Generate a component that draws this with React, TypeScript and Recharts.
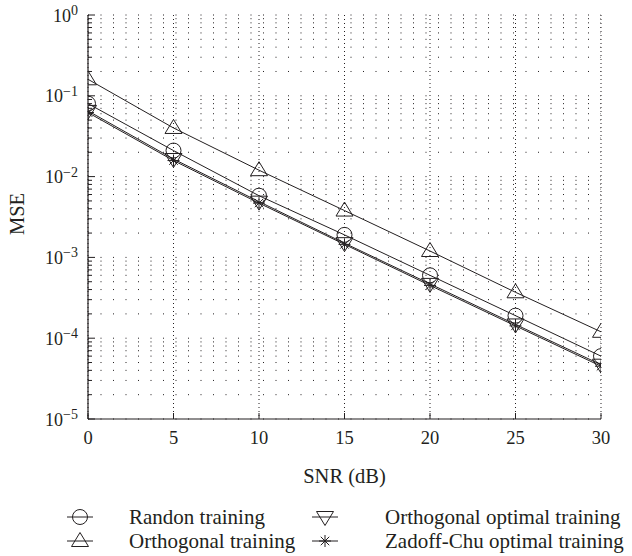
import React from 'react';
import { LineChart, Line, XAxis, YAxis, CartesianGrid, Label } from 'recharts';

const snrDb = [0, 5, 10, 15, 20, 25, 30];
const randonTraining = [0.08, 0.021, 0.0058, 0.0019, 0.0006, 0.00019, 0.00006];
const orthogonalTraining = [0.16, 0.04, 0.012, 0.0038, 0.0012, 0.00037, 0.00012];
const orthogonalOptimalTraining = [0.065, 0.0165, 0.0049, 0.0015, 0.00047, 0.000148, 0.000047];
const zadoffChuOptimalTraining = [0.062, 0.0158, 0.0047, 0.00145, 0.00045, 0.000142, 0.000045];

const xTicks = [0, 5, 10, 15, 20, 25, 30];
const decadeExponents = [-5, -4, -3, -2, -1];
const mantissas = [1, 2, 3, 4, 5, 6, 7, 8, 9];

const yTicks: number[] = [];
for (const e of decadeExponents) for (const m of mantissas) yTicks.push(m * Math.pow(10, e));
yTicks.push(1);

const data = snrDb.map((s, i) => ({
  snr: s,
  randon: randonTraining[i],
  ortho: orthogonalTraining[i],
  orthoOpt: orthogonalOptimalTraining[i],
  zc: zadoffChuOptimalTraining[i],
}));

const FONT = '"Liberation Serif", "Times New Roman", serif';
const INK = '#231f20';

function isMajor(v: number) {
  const e = Math.floor(Math.log10(v) + 1e-9);
  const m = v / Math.pow(10, e);
  return Math.abs(m - 1) < 1e-6;
}

const CircleMark = ({ cx, cy }: any) => (
  <circle cx={cx} cy={cy} r={7.5} fill="none" stroke={INK} strokeWidth={1} />
);
const TriUpMark = ({ cx, cy }: any) => (
  <polygon
    points={`${cx},${cy - 8.5} ${cx - 8.5},${cy + 5.5} ${cx + 8.5},${cy + 5.5}`}
    fill="none"
    stroke={INK}
    strokeWidth={1}
  />
);
const TriDownMark = ({ cx, cy }: any) => (
  <polygon
    points={`${cx},${cy + 8.5} ${cx - 8.5},${cy - 5.5} ${cx + 8.5},${cy - 5.5}`}
    fill="none"
    stroke={INK}
    strokeWidth={1}
  />
);
const StarMark = ({ cx, cy }: any) => {
  const r = 6;
  const d = r * 0.7071;
  return (
    <g stroke={INK} strokeWidth={1}>
      <line x1={cx - r} y1={cy} x2={cx + r} y2={cy} />
      <line x1={cx} y1={cy - r} x2={cx} y2={cy + r} />
      <line x1={cx - d} y1={cy - d} x2={cx + d} y2={cy + d} />
      <line x1={cx - d} y1={cy + d} x2={cx + d} y2={cy - d} />
    </g>
  );
};

function LeftTick(props: any) {
  const { x, y, payload } = props;
  const v = payload.value;
  const major = isMajor(v);
  const e = Math.round(Math.log10(v));
  return (
    <g>
      <line x1={x} x2={x + (major ? 7 : 4)} y1={y} y2={y} stroke={INK} strokeWidth={1} />
      {major && (
        <text x={x - 10} y={y + 6.5} textAnchor="end" fontFamily={FONT} fontSize={18} fill={INK}>
          <tspan>10</tspan>
          <tspan dy={-6.5} fontSize={14}>{e === 0 ? '0' : '\u2212' + Math.abs(e)}</tspan>
        </text>
      )}
    </g>
  );
}

function RightTick(props: any) {
  const { x, y, payload } = props;
  const major = isMajor(payload.value);
  return <line x1={x} x2={x - (major ? 7 : 4)} y1={y} y2={y} stroke={INK} strokeWidth={1} />;
}

function BottomTick(props: any) {
  const { x, y, payload } = props;
  return (
    <g>
      <line x1={x} x2={x} y1={y} y2={y - 6} stroke={INK} strokeWidth={1} />
      <text x={x} y={y + 25} textAnchor="middle" fontFamily={FONT} fontSize={18.5} fill={INK}>
        {payload.value}
      </text>
    </g>
  );
}

function TopTick(props: any) {
  const { x, y } = props;
  return <line x1={x} x2={x} y1={y} y2={y + 6} stroke={INK} strokeWidth={1} />;
}

const MseLabel = (props: any) => {
  const vb = props.viewBox || {};
  const cx = vb.x + 17;
  const cy = vb.y + vb.height / 2 - 3;
  return (
    <text
      x={cx}
      y={cy}
      transform={`rotate(-90 ${cx} ${cy})`}
      textAnchor="middle"
      dominantBaseline="central"
      fontFamily={FONT}
      fontSize={20.5}
      fill={INK}
    >
      MSE
    </text>
  );
};

const SnrLabel = (props: any) => {
  const vb = props.viewBox || {};
  const cx = vb.x + vb.width / 2;
  return (
    <text x={cx} y={vb.y + 64} textAnchor="middle" fontFamily={FONT} fontSize={20.5} fill={INK}>
      SNR (dB)
    </text>
  );
};

const legendItems = [
  { name: 'Randon training', Mark: CircleMark, left: 67, text: 129, row: 0 },
  { name: 'Orthogonal training', Mark: TriUpMark, left: 67, text: 129, row: 1 },
  { name: 'Orthogonal optimal training', Mark: TriDownMark, left: 312, text: 385, row: 0 },
  { name: 'Zadoff-Chu optimal training', Mark: StarMark, left: 312, text: 385, row: 1 },
];

export default function App() {
  return (
    <div style={{ position: 'absolute', left: 0, top: 0, width: 632, height: 556, overflow: 'hidden' }}>
      <LineChart
        width={632}
        height={556}
        data={data}
        margin={{ top: 15, right: 31, left: 0, bottom: 67 }}
        style={{ display: 'block' }}
      >
        <CartesianGrid horizontal={true} vertical={false} stroke={INK} strokeWidth={1} strokeDasharray="1 11.5" />
        <CartesianGrid horizontal={false} vertical={true} stroke={INK} strokeWidth={1} strokeDasharray="1 3" />
        <XAxis
          dataKey="snr"
          type="number"
          domain={[0, 30]}
          ticks={xTicks}
          allowDataOverflow
          height={70}
          tickSize={0}
          tickMargin={0}
          tickLine={false}
          axisLine={{ stroke: INK, strokeWidth: 1.2 }}
          tick={(p: any) => <BottomTick {...p} />}
          interval={0}
        >
          <Label content={SnrLabel} />
        </XAxis>
        <XAxis
          xAxisId="top"
          orientation="top"
          dataKey="snr"
          type="number"
          domain={[0, 30]}
          ticks={xTicks}
          allowDataOverflow
          height={0}
          tickSize={0}
          tickMargin={0}
          tickLine={false}
          axisLine={{ stroke: INK, strokeWidth: 1.2 }}
          tick={(p: any) => <TopTick {...p} />}
          interval={0}
        />
        <YAxis
          type="number"
          scale="log"
          domain={[1e-5, 1]}
          ticks={yTicks}
          allowDataOverflow
          width={88}
          tickSize={0}
          tickMargin={0}
          tickLine={false}
          axisLine={{ stroke: INK, strokeWidth: 1.2 }}
          tick={(p: any) => <LeftTick {...p} />}
          interval={0}
        >
          <Label content={MseLabel} />
        </YAxis>
        <YAxis
          yAxisId="right"
          orientation="right"
          type="number"
          scale="log"
          domain={[1e-5, 1]}
          ticks={yTicks}
          allowDataOverflow
          width={0}
          tickSize={0}
          tickMargin={0}
          tickLine={false}
          axisLine={{ stroke: INK, strokeWidth: 1.2 }}
          tick={(p: any) => <RightTick {...p} />}
          interval={0}
        />
        <Line
          xAxisId="top"
          yAxisId="right"
          dataKey="ortho"
          stroke="none"
          dot={false}
          activeDot={false}
          legendType="none"
          isAnimationActive={false}
        />
        <Line
          dataKey="ortho"
          stroke={INK}
          strokeWidth={1}
          isAnimationActive={false}
          dot={(p: any) => <TriUpMark key={'o' + p.index} cx={p.cx} cy={p.cy} />}
          activeDot={false}
        />
        <Line
          dataKey="randon"
          stroke={INK}
          strokeWidth={1}
          isAnimationActive={false}
          dot={(p: any) => <CircleMark key={'r' + p.index} cx={p.cx} cy={p.cy} />}
          activeDot={false}
        />
        <Line
          dataKey="orthoOpt"
          stroke={INK}
          strokeWidth={1}
          isAnimationActive={false}
          dot={(p: any) => <TriDownMark key={'d' + p.index} cx={p.cx} cy={p.cy} />}
          activeDot={false}
        />
        <Line
          dataKey="zc"
          stroke={INK}
          strokeWidth={1}
          isAnimationActive={false}
          dot={(p: any) => <StarMark key={'z' + p.index} cx={p.cx} cy={p.cy} />}
          activeDot={false}
        />
      </LineChart>
      {legendItems.map((it) => {
        const top = it.row === 0 ? 517 : 541;
        return (
          <React.Fragment key={it.name}>
            <svg
              width={26}
              height={22}
              style={{ position: 'absolute', left: it.left, top: top - 11, overflow: 'visible' }}
            >
              <line x1={0} x2={26} y1={11} y2={11} stroke={INK} strokeWidth={1} />
              <it.Mark cx={13} cy={11} />
            </svg>
            <div
              style={{
                position: 'absolute',
                left: it.text,
                top: top - 13,
                height: 26,
                lineHeight: '26px',
                fontFamily: FONT,
                fontSize: 21,
                color: INK,
                whiteSpace: 'nowrap',
              }}
            >
              {it.name}
            </div>
          </React.Fragment>
        );
      })}
    </div>
  );
}
